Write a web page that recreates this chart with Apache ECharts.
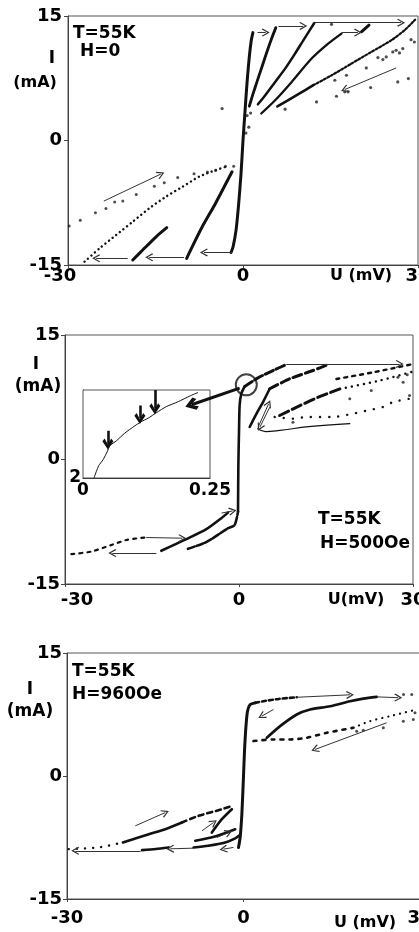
<!DOCTYPE html>
<html><head><meta charset="utf-8">
<script src="https://cdn.jsdelivr.net/npm/echarts@6/dist/echarts.min.js"></script>
<style>html,body{margin:0;padding:0;background:#fff}#c{width:419px;height:932px}</style>
</head><body><div id="c"></div>
<script>
// ---------- tick labels ----------
const xTicks = [-30, 0, 30];
const yTicks = [-15, 0, 15];
const insetXTicks = [0, 0.25];
const insetYTicks = [2, 10];

// ---------- panel 1 (H=0) ----------
const p1Steep = [[-2.05,-13.5],[-1.7,-12.8],[-1.19,-10.8],[-0.74,-7.6],[-0.34,-4.0],[0,0],[0.28,2.85],[0.68,6.86],[1.08,10.07],[1.42,12.07],[1.7,13.0]];
const p1BUp = [[1.08,4.13],[1.65,5.46],[2.39,7.06],[3.24,8.86],[4.09,10.67],[4.83,12.15],[5.63,13.6]];
const p1BDown = [[-9.66,-14.2],[-8.98,-13.2],[-6.99,-10.4],[-4.72,-7.58],[-1.88,-3.77]];
const p1CUp = [[2.56,4.37],[3.81,5.46],[5.51,7.06],[7.22,8.66],[8.92,10.47],[10.34,12.07],[12.22,14.16]];
const p1CDown = [[-18.9,-14.4],[-17.2,-13.2],[-14.9,-11.6],[-13.07,-10.5]];
const p1DUp = [[3.13,3.25],[5.51,4.85],[8.35,7.06],[11.76,9.87],[14.6,11.67],[16.88,12.88]];
const p1DShort = [[20.3,13.1],[21.6,13.9]];
const p1EDense = [[5.9,4.1],[9.49,5.58],[12.05,6.66]];
const p1ETail = [[12.05,6.66],[15.2,7.86],[18.6,9.27],[22.0,10.67],[25.4,12.07],[27.7,13.28],[29.5,14.56]];
const p1FDown = [[-27.16,-14.6],[-24.6,-13.0],[-21.76,-11.39],[-18.92,-9.79],[-16.08,-8.18],[-13.24,-6.78],[-10.4,-5.58],[-7.56,-4.37],[-4.72,-3.57],[-2.44,-3.05]];
const p1GDots = [[-29.8,-10.3],[-27.9,-9.6],[-25.3,-8.7],[-23.5,-8.2],[-22.0,-7.4],[-20.6,-7.3],[-18.3,-6.5],[-15.2,-5.5],[-13.5,-5.1],[-11.2,-4.45],[-8.4,-4.0],[-6.1,-3.8],[-4.7,-3.6],[-3.0,-3.1],[-1.6,-3.1]];
const p1Dots = [[-3.58,3.85],[0.7,3.0],[1.3,3.3],[1.0,1.6],[0.5,0.9],[7.22,3.77],[12.61,4.65],[16.02,5.33],[17.44,5.86],[18.01,5.86],[21.88,6.38],[26.53,7.06],[28.35,7.46],[15.74,7.26],[17.73,7.86],[21.14,8.74],[23.13,9.99],[23.98,9.75],[24.55,10.07],[25.68,10.67],[26.25,10.87],[26.82,10.55],[27.39,11.07],[28.81,12.15],[29.38,11.87],[15.17,14.0]];
const p1Arrows = [
  [[2.5,13.0],[3.9,13.0]],
  [[6.08,13.8],[10.34,13.8]],
  [[12.05,14.2],[27.1,14.2]],
  [[16.9,13.0],[19.7,13.0]],
  [[26.25,8.74],[17.44,6.14]],
  [[-23.86,-7.3],[-14.1,-4.05]],
  [[-19.77,-14.2],[-25.17,-14.2]],
  [[-10.1,-14.08],[-16.08,-14.08]],
  [[-1.88,-13.48],[-6.7,-13.48]]
];

// ---------- panel 2 (H=500 Oe) ----------
const p2Vert = [[-0.17,-6.28],[-0.11,-0.68],[0,3.32],[0.11,6.52],[0.4,7.92],[0.98,8.8]];
const p2K1 = [[0.98,8.8],[3.28,9.84],[5.86,10.72],[8.16,11.44]];
const p2K2 = [[5.29,8.52],[8.74,9.72],[12.76,10.72],[15.34,11.44]];
const p2L = [[16.8,9.7],[23.1,10.5],[30,11.5]];
const p2M = [[7.0,5.3],[10.5,6.5],[14.0,7.6],[17.4,8.5]];
const p2MTail = [[17.4,8.5],[24.2,9.5],[30,10.6]];
const p2N = [[6.15,5.12],[9.31,4.92],[11.6,5.12],[16.2,5.12],[19.65,5.52],[22.2,5.92],[24.8,6.32],[26.55,6.92],[29.4,7.32]];
const p2Dots = [[19.1,7.32],[22.8,8.32],[29.4,7.72],[28.3,9.32],[27.4,9.92],[9.3,4.5],[29.0,10.2]];
const p2O = [[19.1,4.32],[12.0,3.95],[7.0,3.5],[4.6,3.35],[3.2,3.7]];
const p2P = [[1.84,3.92],[3.0,5.5],[4.14,6.92],[5.29,8.52]];
const p2H = [[-8.8,-10.76],[-5.5,-9.9],[-1.9,-8.28],[-0.75,-7.88],[-0.17,-6.28]];
const p2I = [[-13.4,-11.0],[-9.08,-9.6],[-5.63,-8.4],[-3.05,-7.08],[-1.9,-6.4]];
const p2J = [[-28.9,-11.4],[-25.5,-11.1],[-22.0,-10.3],[-19.4,-9.7],[-16.3,-9.4]];
const p2Circle = [[1.26,9.0]];
const p2Arrows = [
  [[-16.0,-9.4],[-9.77,-9.48]],
  [[-14.25,-11.28],[-21.84,-11.28]],
  [[-3.0,-6.45],[-1.1,-6.2]],
  [[8.16,11.52],[27.7,11.52]],
  [[3.3,3.9],[5.1,6.7]],
  [[5.3,6.3],[3.6,3.9]]
];
const p2BigArrow = [[[0.11,8.6],[-8.2,6.6]]];
// inset (U 0..0.25)
const insetCurve = [[0.0217,2.0],[0.0263,2.6],[0.031,3.12],[0.0395,3.66],[0.048,4.42],[0.0526,4.93],[0.0658,5.38],[0.0822,6.08],[0.102,6.74],[0.115,7.13],[0.128,7.43],[0.145,7.95],[0.164,8.49],[0.1875,8.94],[0.2105,9.46],[0.2257,9.76]];
const insetArrows = [
  [[0.049,6.3],[0.049,5.1]],
  [[0.112,8.6],[0.112,7.4]],
  [[0.1414,10.0],[0.1414,8.3]]
];

// ---------- panel 3 (H=960 Oe) ----------
const p3Steep = [[-0.85,-8.71],[-0.57,-7.5],[-0.28,-4.66],[0,0],[0.17,3.04],[0.4,5.88],[0.68,7.9],[1.13,8.71],[1.98,8.92]];
const p3S = [[1.98,8.92],[3.4,9.12],[6.0,9.4],[9.05,9.6]];
const p3T = [[3.96,4.66],[6.23,6.08],[9.05,7.5],[11.32,8.11],[14.71,8.51],[18.1,9.12],[20.37,9.44],[22.64,9.65]];
const p3U = [[1.7,4.26],[5.09,4.46],[7.92,4.46],[10.75,4.66],[14.15,5.27],[18.68,5.88]];
const p3UTail = [[18.68,5.88],[21.5,6.69],[24.9,7.3],[29.4,8.1]];
const p3Dots = [[19.24,5.47],[20.37,5.59],[23.77,5.88],[27.16,6.69],[28.86,6.89],[29.15,7.7],[27.2,9.93],[28.6,9.93]];
const p3X1a = [[-29.7,-8.92],[-24.6,-8.71],[-20.5,-8.1]];
const p3X1b = [[-20.5,-8.1],[-16.1,-7.1],[-13.3,-6.49],[-10.47,-5.67]];
const p3X1c = [[-10.47,-5.67],[-7.64,-4.86],[-3.68,-4.05],[-1.98,-3.65]];
const p3X2a = [[-17.26,-9.04],[-14.9,-8.9],[-12.73,-8.71]];
const p3X2b = [[-8.49,-8.71],[-6.0,-8.5],[-3.11,-8.1],[-1.41,-7.6],[-0.6,-7.2]];
const p3X3 = [[-5.38,-6.9],[-3.68,-5.27],[-1.98,-4.05]];
const p3X4 = [[-8.2,-7.9],[-5.5,-7.5],[-3.68,-7.1],[-1.41,-6.49]];
const p3Arrows = [
  [[9.05,9.6],[18.1,9.9]],
  [[22.64,9.65],[26.3,9.55]],
  [[5.09,8.11],[3.11,7.3]],
  [[24.33,6.49],[12.17,3.24]],
  [[-18.39,-6.08],[-13.3,-4.46]],
  [[-7.07,-6.69],[-5.09,-5.67]],
  [[-4.53,-7.5],[-2.55,-6.89]],
  [[-1.7,-8.71],[-3.4,-8.92]],
  [[-17.5,-9.12],[-28.6,-9.12]],
  [[-8.49,-8.8],[-12.45,-8.88]]
];

// ---------- chart ----------
const FONT = 'DejaVu Sans';
const INK = '#111';
const CHEVRON = 'path://M50,0 L100,88 L89,100 L50,30 L11,100 L0,88 Z';
const HEAVY = 'path://M50,0 L100,75 L80,100 L50,45 L20,100 L0,75 Z';

const grids = [
  {left:68, top:16, width:350, height:249},
  {left:65, top:335, width:348, height:249},
  {left:67, top:653, width:353, height:246},
  {left:83, top:390, width:127, height:88, backgroundColor:'#fff', z:5}
].map(g => Object.assign({show:true, borderColor:'#555', borderWidth:1, outerBoundsMode:'none', containLabel:false}, g));

function labelStyle(size){ return {color:'#000', fontFamily:FONT, fontWeight:'bold', fontSize:size}; }

function mainX(gi, minPad, margin){
  return {type:'value', gridIndex:gi, min:xTicks[0], max:xTicks[xTicks.length-1], interval:xTicks[1]-xTicks[0],
    axisLine:{onZero:false, lineStyle:{color:'#444'}}, axisTick:{show:true, length:3, lineStyle:{color:'#444'}},
    splitLine:{show:false},
    axisLabel:Object.assign(labelStyle(18), {margin, showMinLabel:true, showMaxLabel:true,
      formatter: v => v === xTicks[0] ? '{m|' + v + '}' : String(v),
      rich:{m:Object.assign(labelStyle(18), {padding:minPad})}})};
}
function mainY(gi, margin){
  return {type:'value', gridIndex:gi, min:yTicks[0], max:yTicks[yTicks.length-1], interval:yTicks[1]-yTicks[0],
    axisLine:{onZero:false, lineStyle:{color:'#444'}}, axisTick:{show:true, length:4, lineStyle:{color:'#444'}},
    splitLine:{show:false},
    axisLabel:Object.assign(labelStyle(18), {margin, showMinLabel:true, showMaxLabel:true})};
}

const xAxes = [
  mainX(0, [0,16,0,0], 2),
  mainX(1, [0,0,0,24], 7),
  mainX(2, [0,0,0,0], 10),
  {type:'value', gridIndex:3, min:insetXTicks[0], max:insetXTicks[1], interval:insetXTicks[1]-insetXTicks[0],
    axisLine:{onZero:false, lineStyle:{color:'#222'}}, axisTick:{show:false}, splitLine:{show:false},
    axisLabel:Object.assign(labelStyle(17), {margin:4, showMinLabel:true, showMaxLabel:true})}
];
const yAxes = [
  mainY(0, 6),
  mainY(1, 5),
  mainY(2, 5),
  {type:'value', gridIndex:3, min:insetYTicks[0], max:insetYTicks[1], interval:insetYTicks[1]-insetYTicks[0],
    axisLine:{onZero:false, lineStyle:{color:'#222'}}, axisTick:{show:false}, splitLine:{show:false},
    axisLabel:Object.assign(labelStyle(17), {margin:2, formatter: v => v === insetYTicks[0] ? String(v) : ''})}
];

const series = [];
function ln(g, data, width, type, smooth){
  series.push({type:'line', xAxisIndex:g, yAxisIndex:g, data, symbol:'none', showSymbol:false,
    smooth: smooth === undefined ? 0.25 : smooth, silent:true, z: g === 3 ? 6 : 3,
    lineStyle:{color:INK, width, type: type || 'solid', cap:'round', join:'round'}});
}
function sc(g, data, size){
  series.push({type:'scatter', xAxisIndex:g, yAxisIndex:g, data, symbol:'circle', symbolSize:size, silent:true,
    itemStyle:{color:'#222'}, z:3});
}
function arrows(g, list, symbol, size, width, color, z){
  series.push({type:'lines', coordinateSystem:'cartesian2d', xAxisIndex:g, yAxisIndex:g, silent:true,
    symbol:['none', symbol], symbolSize:size, z: z || (g === 3 ? 7 : 4),
    lineStyle:{color: color || '#333', width, opacity:1, curveness:0},
    data: list.map(c => ({coords:c}))});
}

// panel 1
ln(0, p1Steep, 3);
ln(0, p1BUp, 2.8); ln(0, p1BDown, 3);
ln(0, p1CUp, 2.5); ln(0, p1CDown, 3);
ln(0, p1DUp, 2.3); ln(0, p1DShort, 3, 'solid', 0);
ln(0, p1EDense, 2.6); ln(0, p1ETail, 2.2, [2,2]);
ln(0, p1FDown, 2.4, [0.1,4.5]);
sc(0, p1GDots, 3); sc(0, p1Dots, 3.2);
arrows(0, p1Arrows, CHEVRON, 8, 1);

// panel 2
ln(1, p2Vert, 2.6);
ln(1, p2K1, 3, [9,3]);
ln(1, p2K2, 3, [9,4]);
ln(1, p2L, 2.4, [3,5]);
ln(1, p2M, 3, [10,4]);
ln(1, p2MTail, 2.4, [0.1,6]);
ln(1, p2N, 2.4, [0.1,9]);
sc(1, p2Dots, 3);
ln(1, p2O, 1.2, 'solid', 0.4);
ln(1, p2P, 2.6);
ln(1, p2H, 2.6, [7,2]);
ln(1, p2I, 2.6);
ln(1, p2J, 2.2, [3,5]);
series.push({type:'scatter', xAxisIndex:1, yAxisIndex:1, data:p2Circle, symbol:'circle', symbolSize:21, silent:true,
  itemStyle:{color:'rgba(0,0,0,0)', borderColor:INK, borderWidth:2}, z:4});
arrows(1, p2Arrows, CHEVRON, 8, 1);
arrows(1, p2BigArrow, HEAVY, 13, 3, INK, 20);
// inset
ln(3, insetCurve, 1, 'solid', 0.2);
arrows(3, insetArrows, HEAVY, 11, 2.6, INK);

// panel 3
ln(2, p3Steep, 3);
ln(2, p3S, 2.6, [4,3]);
ln(2, p3T, 2.6);
ln(2, p3U, 2.6, [3,6]);
ln(2, p3UTail, 2.2, [0.1,6]);
sc(2, p3Dots, 3);
ln(2, p3X1a, 2.4, [0.1,8]);
ln(2, p3X1b, 2.6);
ln(2, p3X1c, 2.6, [5,4]);
ln(2, p3X2a, 2.6);
ln(2, p3X2b, 2.6);
ln(2, p3X3, 2.6);
ln(2, p3X4, 2.6);
arrows(2, p3Arrows, CHEVRON, 8, 1);

function txt(x, y, text, size, align){
  return {type:'text', x, y, z:10, silent:true,
    style:{text, fill:'#000', fontFamily:FONT, fontWeight:'bold', fontSize:size, align: align || 'left', verticalAlign:'middle'}};
}
const graphics = [
  txt(73, 34, 'T=55K', 17), txt(80, 52, 'H=0', 17),
  txt(52, 59, 'I', 17, 'center'), txt(35, 83, '(mA)', 16, 'center'),
  txt(361, 276, 'U (mV)', 16, 'center'),
  txt(36, 365, 'I', 17, 'center'), txt(38, 387, '(mA)', 17, 'center'),
  txt(318, 520, 'T=55K', 17), txt(320, 544, 'H=500Oe', 17),
  txt(356, 600, 'U(mV)', 16, 'center'),
  txt(30, 690, 'I', 17, 'center'), txt(30, 712, '(mA)', 17, 'center'),
  txt(72, 672, 'T=55K', 17), txt(72, 695, 'H=960Oe', 17),
  txt(365, 923, 'U (mV)', 16, 'center')
];

const chart = echarts.init(document.getElementById('c'));
chart.setOption({
  animation:false,
  backgroundColor:'#fff',
  grid:grids, xAxis:xAxes, yAxis:yAxes, series, graphic:graphics
});
</script></body></html>
